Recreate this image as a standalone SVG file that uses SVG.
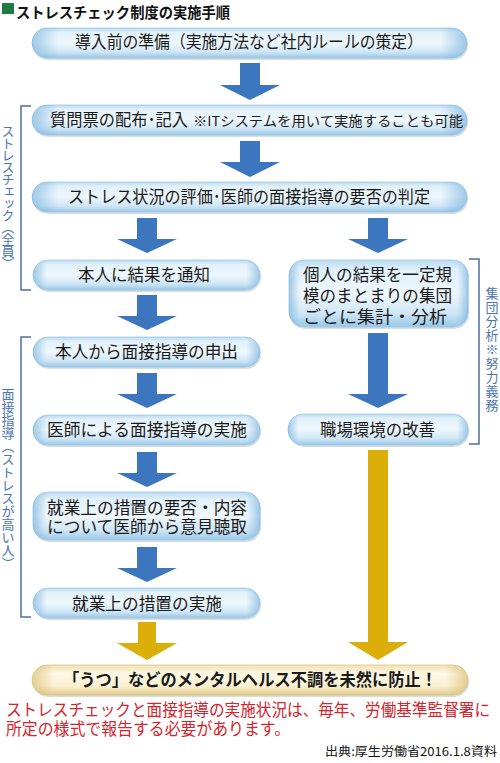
<svg xmlns="http://www.w3.org/2000/svg" width="500" height="763" viewBox="0 0 500 763">
<style>
.t{font-family:"Noto Sans CJK JP","Noto Sans",sans-serif;font-size:17px;fill:#1a1a1a}
.s{font-family:"Noto Sans CJK JP","Noto Sans",sans-serif;font-size:13.5px;fill:#1a1a1a}
.v{font-family:"Noto Sans CJK JP","Noto Sans",sans-serif;font-size:13px;fill:#4c76b0;writing-mode:vertical-rl;text-orientation:upright}
.br{fill:none;stroke:#4a6fa5;stroke-width:1.5}
.box{fill:url(#gb);stroke:#9fc8e6;stroke-width:0.8}
.edge{fill:url(#ge)}
.sh{fill:#c3cdd6;opacity:0.7}
.ab{fill:#3c76be}
.ay{fill:#dcae0a}
.red{font-family:"Noto Sans CJK JP","Noto Sans",sans-serif;font-size:16.5px;fill:#d7232b}
</style>
<defs>
<linearGradient id="gb" x1="0" y1="0" x2="0" y2="1">
<stop offset="0" stop-color="#b9dbf1"/>
<stop offset="0.15" stop-color="#e2f1fa"/>
<stop offset="0.5" stop-color="#eef7fc"/>
<stop offset="0.8" stop-color="#cfe6f5"/>
<stop offset="1" stop-color="#97c7e8"/>
</linearGradient>
<linearGradient id="ge" x1="0" y1="0" x2="1" y2="0">
<stop offset="0" stop-color="#7db5df" stop-opacity="0.7"/>
<stop offset="0.06" stop-color="#7db5df" stop-opacity="0"/>
<stop offset="0.94" stop-color="#7db5df" stop-opacity="0"/>
<stop offset="1" stop-color="#7db5df" stop-opacity="0.7"/>
</linearGradient>
<linearGradient id="gy" x1="0" y1="0" x2="0" y2="1">
<stop offset="0" stop-color="#f1e3b4"/>
<stop offset="0.3" stop-color="#fdf8e6"/>
<stop offset="0.7" stop-color="#fbf1d2"/>
<stop offset="1" stop-color="#e2cc8a"/>
</linearGradient>
<linearGradient id="gye" x1="0" y1="0" x2="1" y2="0">
<stop offset="0" stop-color="#d9bd6e" stop-opacity="0.7"/>
<stop offset="0.05" stop-color="#d9bd6e" stop-opacity="0"/>
<stop offset="0.95" stop-color="#d9bd6e" stop-opacity="0"/>
<stop offset="1" stop-color="#d9bd6e" stop-opacity="0.7"/>
</linearGradient>
</defs>
<rect width="500" height="763" fill="#ffffff"/>

<g id="title">
<rect x="2" y="3" width="12" height="11" fill="#1f7a46"/>
<text x="16" y="18" font-family="'Noto Sans CJK JP',sans-serif" font-size="15" font-weight="bold" fill="#111" textLength="214" lengthAdjust="spacingAndGlyphs">ストレスチェック制度の実施手順</text>
</g>

<g id="connectors">
<path class="ab" d="M240 63H260V85H280L250 100L220 85H240Z"/>
<path class="ab" d="M240 141H260V162H280L250 177L220 162H240Z"/>
<path class="ab" d="M137 218H157V239H177L147 253L117 239H137Z"/>
<path class="ab" d="M368 218H388V239H408L378 253L348 239H368Z"/>
<path class="ab" d="M137 295H157V316H177L147 330L117 316H137Z"/>
<path class="ab" d="M137 373H157V394H177L147 408L117 394H137Z"/>
<path class="ab" d="M137 452H157V473H177L147 487L117 473H137Z"/>
<path class="ab" d="M137 547H157V568H177L147 582L117 568H137Z"/>
<path class="ab" d="M368 333H388V394H408L378 408L348 394H368Z"/>
<path class="ay" d="M138 622H156V643H177L147 660L117 643H138Z"/>
<path class="ay" d="M368 450H388V642H408L378 660L348 642H368Z"/>
</g>

<g id="bracket-stresscheck">
<path class="br" d="M31 106H21V290H31"/>
<text class="v" x="8" y="125" letter-spacing="-1">ストレスチェック（全員）</text>
</g>
<g id="bracket-mensetsu">
<path class="br" d="M31 337H21V617H31"/>
<text class="v" x="8" y="388">面接指導（ストレスが高い人）</text>
</g>
<g id="bracket-shudan">
<path class="br" d="M469 259H479V444H469"/>
<text class="v" x="492" y="287" font-size="14" letter-spacing="1">集団分析※努力義務</text>
</g>

<g id="n1">
<rect class="sh" x="33" y="30" width="435" height="30" rx="15"/>
<rect class="box" x="32" y="28" width="435" height="30" rx="15"/>
<rect class="edge" x="32" y="28" width="435" height="30" rx="15"/>
<text class="t" x="75" y="48" textLength="348" lengthAdjust="spacingAndGlyphs">導入前の準備（実施方法など社内ルールの策定）</text>
</g>
<g id="n2">
<rect class="sh" x="33" y="107" width="435" height="30" rx="15"/>
<rect class="box" x="32" y="105" width="435" height="30" rx="15"/>
<rect class="edge" x="32" y="105" width="435" height="30" rx="15"/>
<text class="t" x="50" y="126" textLength="138" lengthAdjust="spacingAndGlyphs">質問票の配布･記入</text>
<text class="s" x="193" y="126" textLength="270" lengthAdjust="spacingAndGlyphs">※ITシステムを用いて実施することも可能</text>
</g>
<g id="n3">
<rect class="sh" x="33" y="184" width="435" height="30" rx="15"/>
<rect class="box" x="32" y="182" width="435" height="30" rx="15"/>
<rect class="edge" x="32" y="182" width="435" height="30" rx="15"/>
<text class="t" x="68" y="203" textLength="362" lengthAdjust="spacingAndGlyphs">ストレス状況の評価･医師の面接指導の要否の判定</text>
</g>
<g id="n4">
<rect class="sh" x="34" y="262" width="227" height="30" rx="15"/>
<rect class="box" x="33" y="260" width="227" height="30" rx="15"/>
<rect class="edge" x="33" y="260" width="227" height="30" rx="15"/>
<text class="t" x="78" y="281" textLength="132" lengthAdjust="spacingAndGlyphs">本人に結果を通知</text>
</g>
<g id="n5">
<rect class="sh" x="290" y="262" width="179" height="67" rx="15"/>
<rect class="box" x="289" y="260" width="179" height="67" rx="15"/>
<rect class="edge" x="289" y="260" width="179" height="67" rx="15"/>
<text class="t" x="303" y="281" textLength="149" lengthAdjust="spacingAndGlyphs">個人の結果を一定規</text>
<text class="t" x="303" y="302" textLength="149" lengthAdjust="spacingAndGlyphs">模のまとまりの集団</text>
<text class="t" x="303" y="323" textLength="144" lengthAdjust="spacingAndGlyphs">ごとに集計・分析</text>
</g>
<g id="n6">
<rect class="sh" x="34" y="339" width="227" height="30" rx="15"/>
<rect class="box" x="33" y="337" width="227" height="30" rx="15"/>
<rect class="edge" x="33" y="337" width="227" height="30" rx="15"/>
<text class="t" x="55" y="358" textLength="183" lengthAdjust="spacingAndGlyphs">本人から面接指導の申出</text>
</g>
<g id="n7">
<rect class="sh" x="34" y="417" width="227" height="30" rx="15"/>
<rect class="box" x="33" y="415" width="227" height="30" rx="15"/>
<rect class="edge" x="33" y="415" width="227" height="30" rx="15"/>
<text class="t" x="47" y="436" textLength="200" lengthAdjust="spacingAndGlyphs">医師による面接指導の実施</text>
</g>
<g id="n8">
<rect class="sh" x="34" y="494" width="227" height="48" rx="15"/>
<rect class="box" x="33" y="492" width="227" height="48" rx="15"/>
<rect class="edge" x="33" y="492" width="227" height="48" rx="15"/>
<text class="t" x="47" y="514" textLength="200" lengthAdjust="spacingAndGlyphs">就業上の措置の要否・内容</text>
<text class="t" x="47" y="533" textLength="200" lengthAdjust="spacingAndGlyphs">について医師から意見聴取</text>
</g>
<g id="n9">
<rect class="sh" x="34" y="590" width="227" height="30" rx="15"/>
<rect class="box" x="33" y="588" width="227" height="30" rx="15"/>
<rect class="edge" x="33" y="588" width="227" height="30" rx="15"/>
<text class="t" x="72" y="610" textLength="150" lengthAdjust="spacingAndGlyphs">就業上の措置の実施</text>
</g>
<g id="n10">
<rect class="sh" x="289" y="416" width="180" height="31" rx="15"/>
<rect class="box" x="288" y="414" width="180" height="31" rx="15"/>
<rect class="edge" x="288" y="414" width="180" height="31" rx="15"/>
<text class="t" x="320" y="436" textLength="115" lengthAdjust="spacingAndGlyphs">職場環境の改善</text>
</g>
<g id="n11">
<rect class="sh" x="33" y="667" width="436" height="30" rx="15"/>
<rect x="32" y="665" width="436" height="30" rx="15" fill="url(#gy)" stroke="#dcc585" stroke-width="0.8"/>
<rect x="32" y="665" width="436" height="30" rx="15" fill="url(#gye)"/>
<text class="t" x="63" y="686" font-weight="bold" textLength="374" lengthAdjust="spacingAndGlyphs">「うつ」などのメンタルヘルス不調を未然に防止！</text>
</g>

<g id="note">
<text class="red" x="6" y="716" textLength="484" lengthAdjust="spacingAndGlyphs">ストレスチェックと面接指導の実施状況は、毎年、労働基準監督署に</text>
<text class="red" x="6" y="735" textLength="284" lengthAdjust="spacingAndGlyphs">所定の様式で報告する必要があります。</text>
</g>
<g id="source">
<text x="325" y="756" font-family="'Noto Sans CJK JP',sans-serif" font-size="12" fill="#111" textLength="172" lengthAdjust="spacingAndGlyphs">出典:厚生労働省2016.1.8資料</text>
</g>
</svg>
